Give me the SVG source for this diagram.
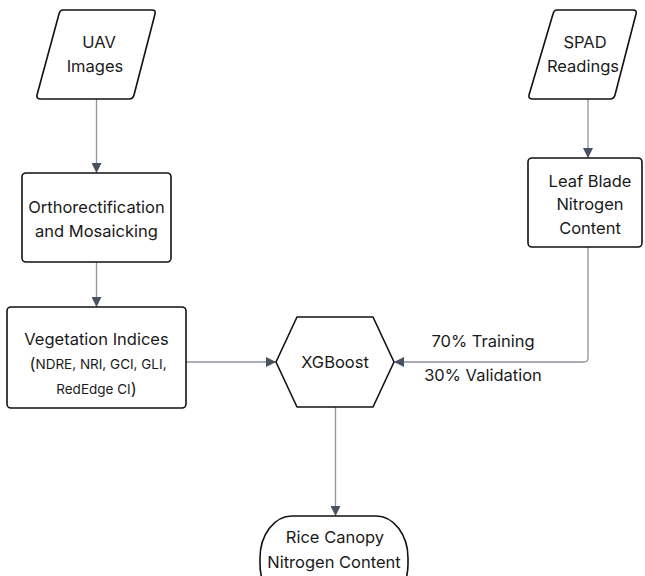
<svg xmlns="http://www.w3.org/2000/svg" width="645" height="576" viewBox="0 0 645 576">
<style>
.n{fill:#fff;stroke:#111;stroke-width:1.6;stroke-linejoin:round}
.t{font-family:Inter,"Noto Sans","Liberation Sans",sans-serif;font-size:16.5px;fill:#1a1a1a;text-anchor:middle;dominant-baseline:central}
.s{font-size:13.5px}
.c{fill:none;stroke:#8e939c;stroke-width:1.3}
</style>
<defs>
<marker id="ah" viewBox="0 0 10 10" refX="10" refY="5" markerWidth="10" markerHeight="10" markerUnits="userSpaceOnUse" orient="auto">
<path d="M0,0 L10,5 L0,10 z" fill="#4a5160"/>
</marker>
</defs>
<rect width="645" height="576" fill="#fff"/>
<g id="connectors">
<path class="c" d="M96.5,99 V173" marker-end="url(#ah)"/>
<path class="c" d="M96.5,262 V307" marker-end="url(#ah)"/>
<path class="c" d="M588,99 V158" marker-end="url(#ah)"/>
<path class="c" d="M186,362 H276" marker-end="url(#ah)"/>
<path class="c" d="M588,247 V358 Q588,362 584,362 H394" marker-end="url(#ah)"/>
<path class="c" d="M335.5,407 V516" marker-end="url(#ah)"/>
<text class="t" x="483" y="341">70% Training</text>
<text class="t" x="483" y="375">30% Validation</text>
</g>
<g id="uav">
<path class="n" d="M63,10 H152 Q156,10 155,14 L134,95 Q133,99 129,99 H41 Q36,99 37,95 L59,14 Q60,10 63,10 Z"/>
<text class="t" x="99" y="42">UAV</text>
<text class="t" x="95" y="66">Images</text>
</g>
<g id="spad">
<path class="n" d="M557,10 H633 Q637,10 636,14 L615,95 Q614,99 610,99 H533 Q528,99 529,95 L553,14 Q554,10 557,10 Z"/>
<text class="t" x="585" y="42">SPAD</text>
<text class="t" x="583" y="66">Readings</text>
</g>
<g id="ortho">
<rect class="n" x="22" y="173" width="149" height="89" rx="4"/>
<text class="t" x="96.5" y="207">Orthorectification</text>
<text class="t" x="96.5" y="231">and Mosaicking</text>
</g>
<g id="veg">
<rect class="n" x="7" y="307" width="179" height="101" rx="4"/>
<text class="t" x="96.5" y="339">Vegetation Indices</text>
<text class="t" x="98" y="364">(<tspan class="s">NDRE, NRI, GCI, GLI,</tspan></text>
<text class="t" x="96.5" y="389"><tspan class="s">RedEdge CI</tspan>)</text>
</g>
<g id="leaf">
<rect class="n" x="528" y="158" width="114" height="89" rx="4"/>
<text class="t" x="590" y="181">Leaf Blade</text>
<text class="t" x="590" y="204">Nitrogen</text>
<text class="t" x="590" y="228">Content</text>
</g>
<g id="xgboost">
<path class="n" d="M276,362 L297,317 H373 L394,362 L373,407 H297 Z"/>
<text class="t" x="335" y="362">XGBoost</text>
</g>
<g id="rice">
<rect class="n" x="260" y="516" width="148" height="90" rx="32" ry="42"/>
<text class="t" x="335" y="537">Rice Canopy</text>
<text class="t" x="334" y="562">Nitrogen Content</text>
</g>
</svg>
